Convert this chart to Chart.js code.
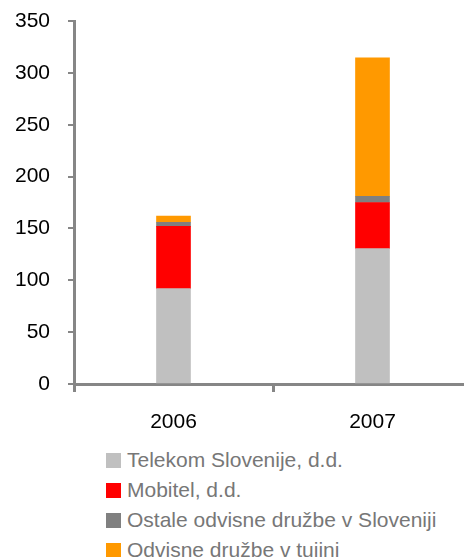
<!DOCTYPE html>
<html>
<head>
<meta charset="utf-8">
<script src="https://cdn.jsdelivr.net/npm/chart.js@4"></script>
<style>
  html, body { margin: 0; padding: 0; background: #fff; overflow: hidden; width: 464px; height: 557px; }
  #wrap { position: absolute; left: 0; top: 0; width: 472px; height: 440px; }
  #legend { position: absolute; left: 106px; top: 445px; font-family: "Liberation Sans", Arial, sans-serif; font-size: 21px; color: #777777; }
  .row { display: flex; align-items: center; height: 30px; white-space: nowrap; }
  .box { width: 15px; height: 15px; margin-right: 6px; flex: none; }
</style>
</head>
<body>
<div id="wrap"><canvas id="c" width="472" height="440"></canvas></div>
<div id="legend"></div>
<script>
const categories = ['2006', '2007'];
const seriesNames = ['Telekom Slovenije, d.d.', 'Mobitel, d.d.', 'Ostale odvisne družbe v Sloveniji', 'Odvisne družbe v tujini'];
const telekom = [92, 130.5];
const mobitel = [60, 44.5];
const ostale = [4, 6];
const tujini = [6, 133.5];
const colors = ['#C0C0C0', '#FF0000', '#808080', '#FF9900'];

const axisGray = '#868686';
const fontFam = '"Liberation Sans", Arial, sans-serif';

const datasets = [telekom, mobitel, ostale, tujini].map((d, i) => ({
  label: seriesNames[i],
  data: d,
  backgroundColor: colors[i],
  borderWidth: 0,
  barThickness: 34
}));

const chart = new Chart(document.getElementById('c'), {
  type: 'bar',
  data: { labels: categories, datasets },
  options: {
    responsive: false,
    devicePixelRatio: 1,
    animation: false,
    layout: { padding: { left: 0, right: 0, top: 21, bottom: 0 } },
    plugins: { legend: { display: false }, tooltip: { enabled: false } },
    scales: {
      x: {
        stacked: true,
        grid: { display: true, drawOnChartArea: false, offset: true, tickLength: 8, tickColor: axisGray, lineWidth: 3, tickWidth: 3 },
        border: { display: true, color: axisGray, width: 3 },
        ticks: { color: '#000', font: { family: fontFam, size: 21 }, padding: 18 },
        afterFit: s => { s.height = 56; s.paddingLeft = 0; s.paddingRight = 0; }
      },
      y: {
        stacked: true,
        min: 0, max: 350,
        grid: { display: true, drawOnChartArea: false, tickLength: 6, tickColor: axisGray, lineWidth: 2, tickWidth: 2 },
        border: { display: true, color: axisGray, width: 3 },
        ticks: { stepSize: 50, color: '#000', font: { family: fontFam, size: 21 }, padding: 18 },
        afterFit: s => { s.width = 74; s.paddingTop = 0; s.paddingBottom = 0; }
      }
    }
  }
});

const legend = document.getElementById('legend');
chart.data.datasets.forEach(ds => {
  const row = document.createElement('div');
  row.className = 'row';
  const box = document.createElement('span');
  box.className = 'box';
  box.style.background = ds.backgroundColor;
  const txt = document.createElement('span');
  txt.textContent = ds.label;
  row.appendChild(box);
  row.appendChild(txt);
  legend.appendChild(row);
});
</script>
</body>
</html>
